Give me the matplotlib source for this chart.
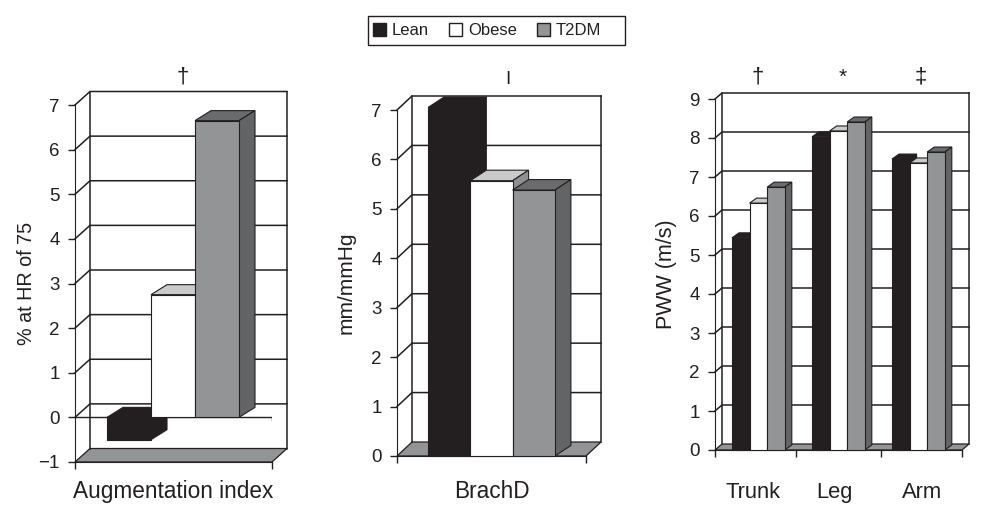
import matplotlib
matplotlib.use('Agg')
import matplotlib.pyplot as plt
from matplotlib.patches import Patch, Rectangle

plt.rcParams['font.family'] = ['Liberation Sans', 'DejaVu Sans']

# %%
# values
ai_lean = [-0.5]
ai_obese = [2.75]
ai_t2dm = [6.65]

brach_lean = [7.05]
brach_obese = [5.57]
brach_t2dm = [5.38]

pww_groups = ['Trunk', 'Leg', 'Arm']
pww_lean = [5.44, 8.03, 7.46]
pww_obese = [6.33, 8.18, 7.36]
pww_t2dm = [6.74, 8.41, 7.64]

series_names = ['Lean', 'Obese', 'T2DM']
marks = ['†', 'I', '†', '*', '‡']

# %%
# colours
INK = '#231f20'
GREY = '#939496'
front_col = [INK, '#ffffff', GREY]
top_col = [INK, '#c9caca', '#6a6b6d']
side_col = [INK, '#8e8f91', '#636466']

W, H = 996, 524
fig = plt.figure(figsize=(W / 100, H / 100), dpi=100)


def make_panel(x0, x1, y_top, y_bot, ymin, ymax, wall_dx, wall_dy):
    # axes rectangle is the front plane of the fake 3D box, everything in pixels
    ax = fig.add_axes([x0 / W, 1 - y_bot / H, (x1 - x0) / W, (y_bot - y_top) / H])
    width = x1 - x0
    ax.set_xlim(0, width)
    ax.set_ylim(ymin, ymax)
    unit = (y_bot - y_top) / (ymax - ymin)
    dy = wall_dy / unit

    ax.patch.set_visible(False)
    ax.spines['top'].set_visible(False)
    ax.spines['right'].set_visible(False)
    ax.spines['left'].set_color(INK)
    ax.spines['bottom'].set_color(INK)
    ax.set_yticks(range(ymin, ymax + 1))
    ax.tick_params(axis='y', length=5, width=1, color=INK, labelcolor=INK, labelsize=13.5, pad=6)
    ax.set_xticks([0, width])
    ax.set_xticklabels([])
    ax.tick_params(axis='x', which='major', length=5, width=1, color=INK)

    # floor
    ax.fill([0, width, width + wall_dx, wall_dx], [ymin, ymin, ymin + dy, ymin + dy],
            facecolor=GREY, edgecolor=INK, lw=0.9, clip_on=False, zorder=1)
    # back wall and grid
    for v in range(ymin + 1, ymax + 1):
        ax.plot([0, wall_dx, width + wall_dx], [v, v + dy, v + dy], color=INK, lw=1.1,
                clip_on=False, zorder=1, solid_joinstyle='miter')
    ax.plot([wall_dx, wall_dx], [ymin + dy, ymax + dy], color=INK, lw=1.1, clip_on=False, zorder=1)
    ax.plot([width + wall_dx] * 2, [ymin + dy, ymax + dy], color=INK, lw=1.1, clip_on=False, zorder=1)
    return ax, unit


def draw_bar(ax, unit, x, w, v, k, dx, dy_px, z):
    dy = dy_px / unit
    hi, lo = max(v, 0), min(v, 0)
    ax.fill([x, x + w, x + w + dx, x + dx], [hi, hi, hi + dy, hi + dy], facecolor=top_col[k],
            edgecolor=INK, lw=0.8, clip_on=False, zorder=z)
    ax.fill([x + w, x + w + dx, x + w + dx, x + w], [lo, lo + dy, hi + dy, hi], facecolor=side_col[k],
            edgecolor=INK, lw=0.8, clip_on=False, zorder=z)
    ax.bar(x, v, w, align='edge', color=front_col[k], edgecolor=INK, lw=0.8, clip_on=False, zorder=z)


# %%
# Augmentation index
ax1, u1 = make_panel(75, 272, 105, 462, -1, 7, 15, 13.5)
ax1.plot([0, 197, 197], [0, 0, -3 / u1], color=INK, lw=1, zorder=2)
for k, vals in enumerate([ai_lean, ai_obese, ai_t2dm]):
    draw_bar(ax1, u1, 32 + 44 * k, 44, vals[0], k, 16, 10, 3 + k)
ax1.set_ylabel('% at HR of 75', fontsize=14.2, color=INK, labelpad=2)
ax1.set_xlabel('Augmentation index', fontsize=16.3, color=INK, labelpad=4.5)

# %%
# BrachD
ax2, u2 = make_panel(397, 586, 110, 456, 0, 7, 15, 14)
for k, vals in enumerate([brach_lean, brach_obese, brach_t2dm]):
    draw_bar(ax2, u2, 31 + 42.3 * k, 42.3, vals[0], k, 16, 10.5, 3 + k)
ax2.set_ylabel('mm/mmHg', fontsize=15, color=INK, labelpad=11.5)
ax2.set_xlabel('BrachD', fontsize=16.3, color=INK, labelpad=9)

# %%
# PWV by site
ax3, u3 = make_panel(715, 962, 99, 450, 0, 9, 7, 6)
for g, left in enumerate([17, 97, 177]):
    for k, vals in enumerate([pww_lean, pww_obese, pww_t2dm]):
        draw_bar(ax3, u3, left + 17.6 * k, 17.6, vals[g], k, 7, 5, 3 + k)
ax3.set_xticks([0, 81, 166, 247])
ax3.set_xticks([38, 119, 207], minor=True)
ax3.set_xticklabels(pww_groups, minor=True, fontsize=15.8, color=INK)
ax3.tick_params(axis='x', which='minor', length=0, pad=23)
ax3.set_ylabel('PWW (m/s)', fontsize=15.5, color=INK, labelpad=9)

# %%
# significance marks above the panels
for s, px, py, fs in zip(marks, [183, 508, 758, 843, 921], [77, 80, 77, 77, 77], [16, 13.5, 16, 15, 16]):
    fig.text(px / W, 1 - py / H, s, ha='center', va='center', fontsize=fs, color=INK)

# %%
# legend, frame drawn apart because the original box has a wide right margin
fig.add_artist(Rectangle((368 / W, 1 - 45 / H), 257 / W, 29 / H, transform=fig.transFigure,
                         facecolor='white', edgecolor=INK, lw=1))
handles = [Patch(facecolor=front_col[k], edgecolor=INK, lw=1) for k in range(3)]
fig.legend(handles, series_names, ncol=3, loc='center left', bbox_to_anchor=(373 / W, 1 - 30.5 / H),
           fontsize=12, frameon=False, handlelength=0.78, handleheight=0.78, handletextpad=0.36,
           columnspacing=1.2, borderpad=0, borderaxespad=0, labelcolor=INK)

plt.savefig('out.png', dpi=100)
